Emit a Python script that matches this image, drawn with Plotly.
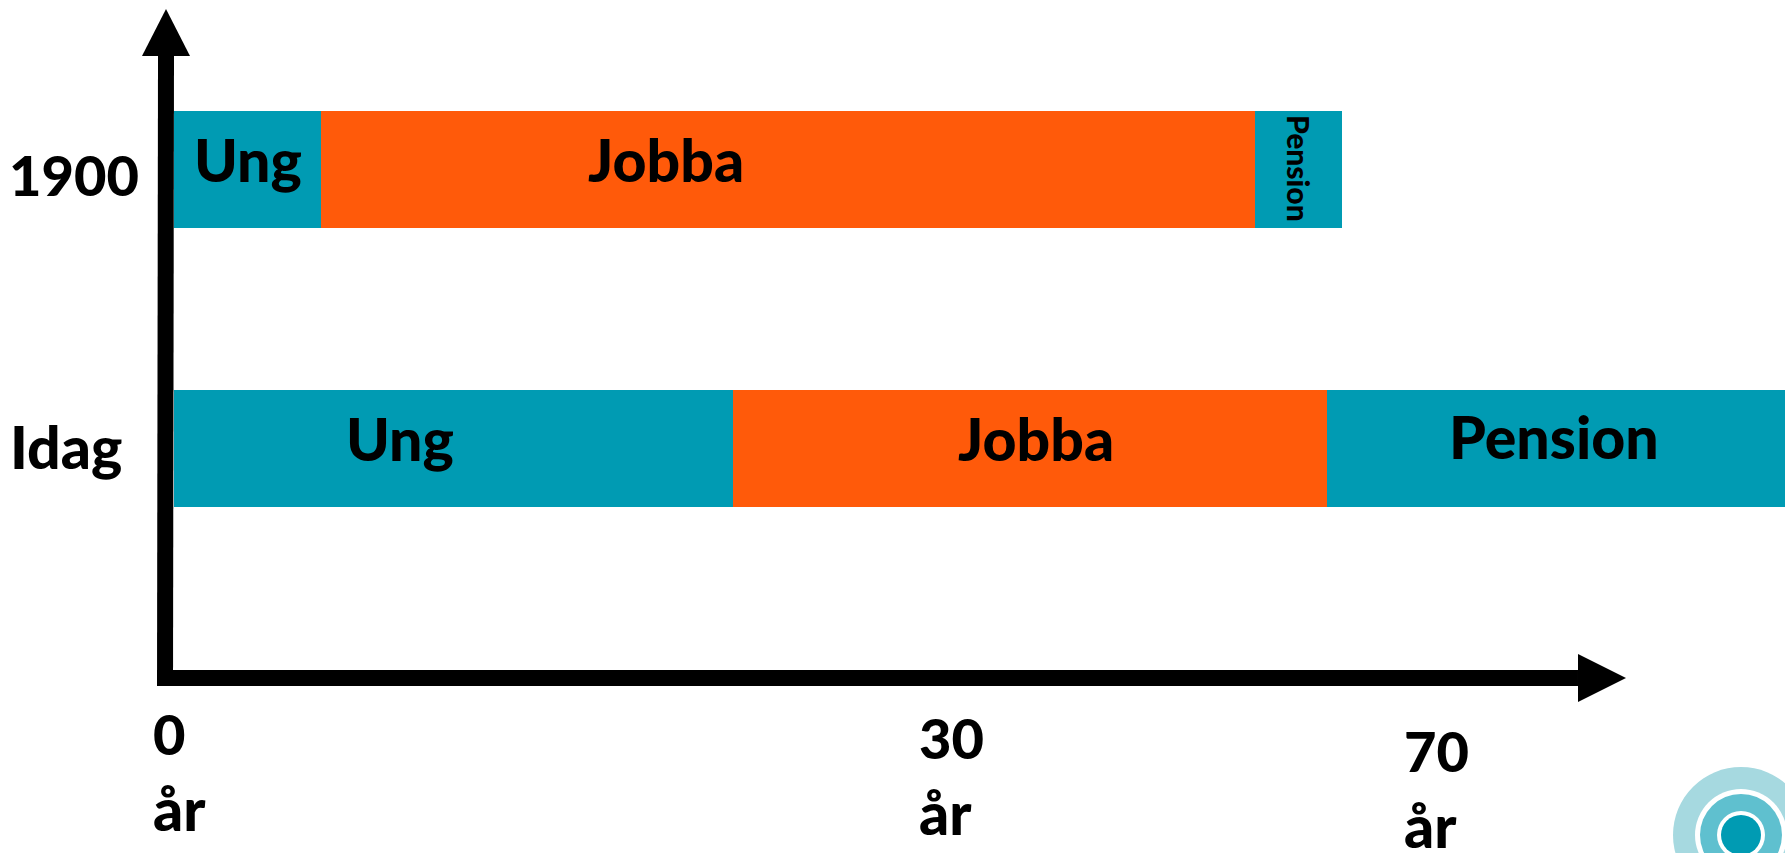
import plotly.graph_objects as go

# Data (years)
rows = ["1900", "Idag"]
phases = ["Ung", "Jobba", "Pension"]
ung_years = [5.7, 21.6]
jobba_years = [36.1, 22.97]
pension_years = [3.36, 20.0]
tick_labels = ["0", "30", "70"]
unit_label = "år"

TEAL = "#009BB3"
ORANGE = "#FF5A0A"
FONT = "Lato, Carlito, 'Open Sans', sans-serif"
W, H = 1785, 853
PX_PER_YEAR = (1255 - 174) / (ung_years[0] + jobba_years[0])
X0 = 174
ROW_PX = 279.0
ROW0_PX = 448.5


def px(x):
    return x / W


def py(y):
    return 1 - y / H


fig = go.Figure()
for name, vals, col in [
    (phases[0], ung_years, TEAL),
    (phases[1], jobba_years, ORANGE),
    (phases[2], pension_years, TEAL),
]:
    fig.add_bar(
        y=rows, x=vals, name=name, orientation="h", width=0.42,
        marker=dict(color=col, line=dict(width=0)), showlegend=False,
        hoverinfo="x+y+name",
    )


def label(text, x, y, size, anchor="center", angle=0):
    fig.add_annotation(
        text=text, x=px(x), y=py(y), xref="paper", yref="paper",
        xanchor=anchor, yanchor="middle", showarrow=False, textangle=angle,
        font=dict(family=FONT, size=size, color="#000000", weight=900),
    )


NUM = 56
WORD = 59
# Row labels
label(rows[0], 7, 175, NUM, "left")
label(rows[1], 8, 446, WORD, "left")
# Bar labels
label(phases[0], 248, 159, WORD)
label(phases[1], 666, 159, WORD)
label(phases[2], 1299, 168, 30, angle=90)
label(phases[0], 400, 438, WORD)
label(phases[1], 1036, 438, WORD)
label(phases[2], 1554, 436, WORD)
# Axis labels
label(tick_labels[0], 151, 733, NUM, "left")
label(unit_label, 151, 808, WORD, "left")
label(tick_labels[1], 917, 737, NUM, "left")
label(unit_label, 917, 812, WORD, "left")
label(tick_labels[2], 1402, 750, NUM, "left")
label(unit_label, 1402, 825, WORD, "left")


def poly(points, color="#000000"):
    d = "M " + " L ".join(f"{px(x):.5f} {py(y):.5f}" for x, y in points) + " Z"
    return dict(type="path", path=d, xref="paper", yref="paper",
                fillcolor=color, line=dict(width=0), layer="above")


def circle(cx, cy, r, color):
    return dict(type="circle", xref="paper", yref="paper",
                x0=px(cx - r), x1=px(cx + r), y0=py(cy + r), y1=py(cy - r),
                fillcolor=color, line=dict(width=0), layer="above")


shapes = [
    poly([(158, 56), (174, 56), (173, 686), (157, 686)]),
    poly([(142, 56), (166, 9), (190, 56)]),
    poly([(157, 670), (1578, 670), (1578, 686), (157, 686)]),
    poly([(1578, 654), (1626, 678), (1578, 702)]),
    circle(1741, 835, 68, "#A6D9E0"),
    circle(1741, 835, 46, "#FFFFFF"),
    circle(1741, 835, 41, "#5FC0CF"),
    circle(1741, 835, 24, "#FFFFFF"),
    circle(1741, 835, 20, TEAL),
]

fig.update_layout(
    width=W, height=H, autosize=False, barmode="stack",
    margin=dict(l=0, r=0, t=0, b=0, pad=0),
    paper_bgcolor="#FFFFFF", plot_bgcolor="#FFFFFF",
    shapes=shapes,
    xaxis=dict(range=[-X0 / PX_PER_YEAR, (W - X0) / PX_PER_YEAR],
               visible=False, fixedrange=True),
    yaxis=dict(type="category", categoryorder="array",
               categoryarray=[rows[1], rows[0]],
               range=[-(H - ROW0_PX) / ROW_PX, ROW0_PX / ROW_PX],
               visible=False, fixedrange=True),
)
fig.write_html(
    "out.html",
    config=dict(displayModeBar=False),
    post_script="document.body.style.margin='0';document.body.style.overflow='hidden';",
)
